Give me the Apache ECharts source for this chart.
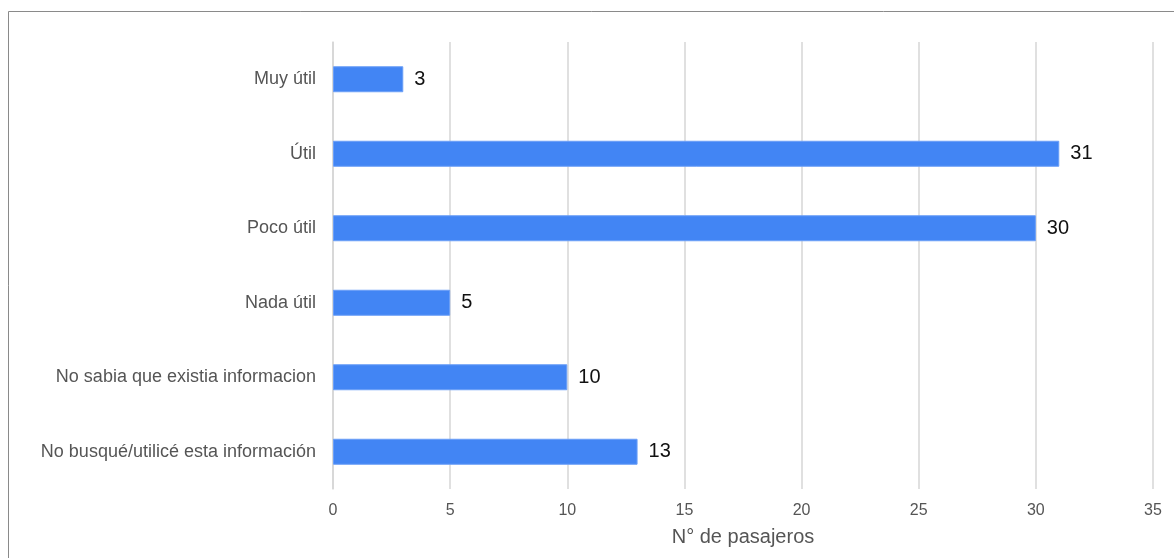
<!DOCTYPE html>
<html><head><meta charset="utf-8">
<script src="https://cdn.jsdelivr.net/npm/echarts@6/dist/echarts.min.js"></script>
<style>html,body{margin:0;padding:0;background:#fff}#c{width:1174px;height:558px}</style>
</head><body><div id="c"></div>
<script>
const categories = ["Muy útil","Útil","Poco útil","Nada útil","No sabia que existia informacion","No busqué/utilicé esta información"];
const values = [3,31,30,5,10,13];
const axisName = "N° de pasajeros";
const font = "'Liberation Sans', Arial, sans-serif";
const chart = echarts.init(document.getElementById('c'));
chart.setOption({
  animation:false,
  graphic:[{type:'rect',shape:{x:8.5,y:11.5,width:1300,height:700},style:{fill:'none',stroke:'#8a8a8a',lineWidth:1},silent:true,z:-1}],
  grid:{left:333,right:21,top:42,bottom:69},
  xAxis:{type:'value',min:0,max:35,interval:5,
    name:axisName,nameLocation:'middle',nameGap:38,
    nameTextStyle:{fontFamily:font,fontSize:20,color:'#555'},
    axisLine:{show:false},axisTick:{show:false},
    axisLabel:{fontFamily:font,fontSize:16,color:'#555',margin:14},
    splitLine:{lineStyle:{color:'#d6d6d6',width:1.5}}},
  yAxis:{type:'category',data:categories,inverse:true,
    axisLine:{show:true,lineStyle:{color:'#d6d6d6',width:1.5}},axisTick:{show:false},
    axisLabel:{fontFamily:font,fontSize:18,color:'#555',margin:17}},
  series:[{type:'bar',data:values,barWidth:26,
    itemStyle:{color:'#4285f4',borderColor:'#6b9ff7',borderWidth:1},
    label:{show:true,position:'right',distance:11,fontFamily:font,fontSize:20,color:'#111'}}]
});
</script></body></html>
